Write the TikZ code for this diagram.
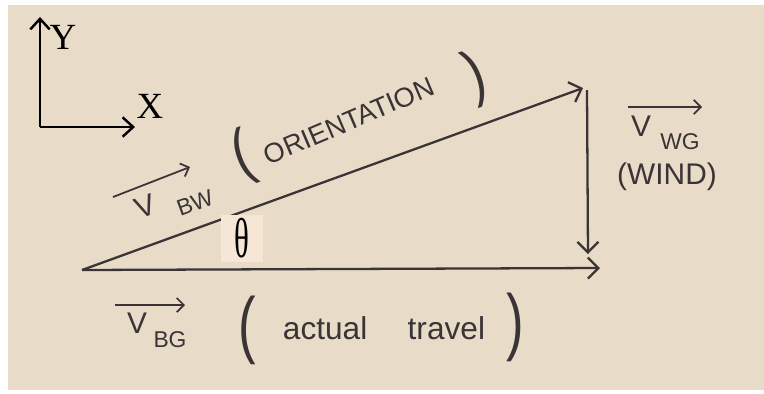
\documentclass[tikz,border=0pt]{standalone}
\usepackage{fontspec}
\setmainfont{Liberation Serif}
\newfontfamily\handfont{Liberation Sans}
\usetikzlibrary{positioning,arrows.meta,calc}
\definecolor{paper}{RGB}{232,220,200}
\definecolor{thetabg}{RGB}{245,230,213}
\definecolor{ink}{RGB}{58,52,54}
\tikzset{
  axis/.style={line width=1.4pt,-{Straight Barb[length=6pt,width=11pt,line width=1.4pt]}},
  vec/.style={ink,line width=1.3pt,-{Straight Barb[length=6pt,width=12pt,line width=1.3pt]}},
  overarrow/.style={ink,line width=1pt,-{Straight Barb[length=4pt,width=8pt,line width=1pt]}},
  hand/.style={ink,font=\handfont\fontsize{17}{17}\selectfont,inner sep=0pt},
  handsub/.style={ink,font=\handfont\fontsize{13}{13}\selectfont,inner sep=0pt},
  paren/.style={ink,font=\handfont\fontsize{30}{30}\selectfont,inner sep=0pt},
}
\begin{document}
\begin{tikzpicture}[x=0.02cm,y=-0.02cm]
  \useasboundingbox (0,0) rectangle (764,393);
  \fill[white] (0,0) rectangle (764,393);
  \fill[paper] (8,5) rectangle (764,390);
  % axes
  \coordinate (ax0) at (40,127);
  \coordinate (axy) at (40,17);
  \coordinate (axx) at (135,127);
  \draw[axis] (ax0) -- (axy);
  \draw[axis] (ax0) -- (axx);
  \node[font=\fontsize{21}{21}\selectfont,inner sep=0pt] (ylab) at (63,37) {Y};
  \node[font=\fontsize{21}{21}\selectfont,inner sep=0pt] (xlab) at (150,106) {X};
  % triangle of velocities
  \coordinate (O) at (82,270);
  \coordinate (G) at (600,268);
  \coordinate (W) at (583,88);
  \coordinate (wtop) at (587,90);
  \coordinate (wbot) at (588,254);
  \draw[vec] (O) -- (W);
  \draw[vec] (O) -- (G);
  \draw[vec] (wtop) -- (wbot);
  \node[fill=thetabg,minimum width=0.84cm,minimum height=0.94cm,inner sep=0pt,
        font=\fontsize{32}{32}\selectfont] (theta) at (242,238) {\scalebox{0.55}[1]{θ}};
  % V_BW (orientation)
  \node[hand,rotate=20] (vbw) at (145,206) {V};
  \node[handsub,rotate=20] (vbwsub) at (195,203) {BW};
  \draw[overarrow] ($(vbw)+(-32,-9)$) -- ($(vbw)+(45,-39)$);
  \node[paren,rotate=20,yscale=1.2] (bwl) at (243,157) {(};
  \node[hand,rotate=23,font=\handfont\fontsize{15.5}{15.5}\selectfont] (orient) at (349,121) {ORIENTATION};
  \node[paren,rotate=20,yscale=1.2] (bwr) at (476,78) {)};
  % V_WG (wind)
  \node[hand] (vwg) at (641,126) {V};
  \node[handsub] (vwgsub) at (680,142) {WG};
  \draw[overarrow] ($(vwg)+(-13,-19)$) -- ($(vwg)+(61,-19)$);
  \node[hand,font=\handfont\fontsize{17}{17}\selectfont] (wind) at (667,177) {(WIND)};
  % V_BG (actual travel)
  \node[hand] (vbg) at (137,323) {V};
  \node[handsub] (vbgsub) at (170,340) {BG};
  \draw[overarrow] ($(vbg)+(-22,-18)$) -- ($(vbg)+(48,-18)$);
  \node[paren,yscale=1.4] (bgl) at (247,330) {(};
  \node[hand,font=\handfont\fontsize{18}{18}\selectfont] (travel) at (384,328) {actual\quad\ travel};
  \node[paren,yscale=1.4] (bgr) at (515,327) {)};
\end{tikzpicture}
\end{document}
